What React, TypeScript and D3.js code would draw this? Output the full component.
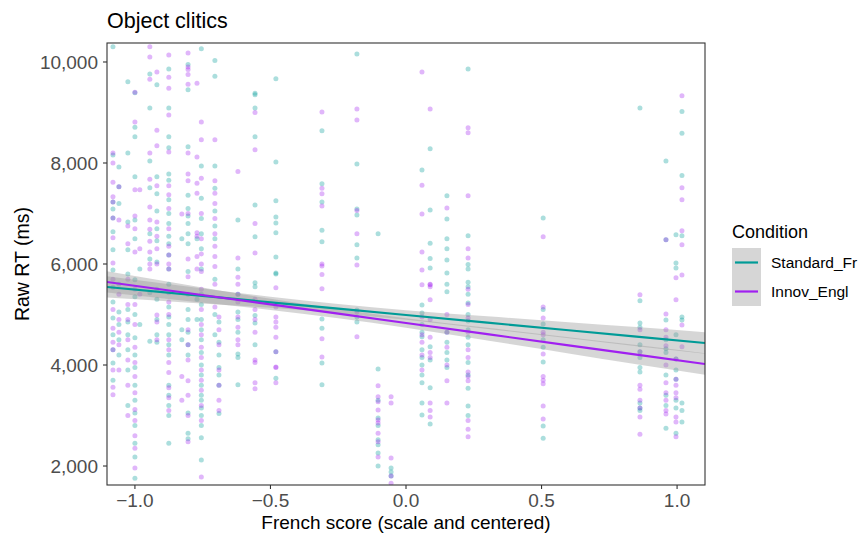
import React from "react";
import * as d3 from "d3";

// French score of each participant (x positions of the point columns)
const scoreColumns = [
  -1.081, -1.059, -1.026, -1.0, -0.982, -0.945, -0.919, -0.875, -0.827, -0.804,
  -0.771, -0.755, -0.705, -0.69, -0.62, -0.557, -0.48, -0.31, -0.181, -0.103,
  -0.055, 0.059, 0.089, 0.151, 0.229, 0.506, 0.863, 0.959, 0.996, 1.018,
];

// Raw RTs (ms), Standard_Fr condition, one list per column
const standardRT = [
  [10300, 8160, 7230, 7090, 6910, 6640, 6280, 5880, 5540, 5250, 4930, 4600, 4300, 4040, 3700],
  [7920, 7530, 7200, 5600, 5050, 4800, 4500, 4200],
  [9610, 8200, 6830, 6280, 5800, 5100, 4850, 4600, 4300, 3900, 3200],
  [9390, 8710, 8520, 7730, 6870, 6500, 5690, 5350, 5000, 4540, 4200, 3950, 3600, 3300, 3050, 2800, 2450, 2180, 1760],
  [5900, 4800],
  [9760, 9090, 8040, 7510, 6600, 6100, 5430, 4470],
  [9550, 7730, 7390, 7050, 6700, 6460, 6040, 5500, 5300, 4900, 4600, 4450],
  [9860, 9090, 8520, 8300, 7780, 7660, 7270, 7000, 6800, 6550, 6400, 6180, 5900, 5600, 5150, 4950, 4800, 4600, 4400, 4200, 3600, 3400, 3200, 3000, 2450],
  [6500, 4700, 4500],
  [9950, 9450, 8320, 7360, 7100, 6950, 6800, 6600, 6400, 5850, 5400, 5100, 4900, 4650, 4400, 4200, 3050, 2650, 2540],
  [6500, 5300, 4900],
  [10260, 7940, 7300, 6900, 6600, 6300, 5900, 5400, 5200, 4900, 4700, 4500, 4250, 4000, 3800, 3600, 3400, 3300, 3150, 3000, 2800, 2560, 2120],
  [10030, 9720, 7940, 7500, 7050, 6750, 6500, 5700, 5000, 4600],
  [4850, 4450, 4200, 3950, 3800, 3600, 3040],
  [6870, 5900, 5400, 5050, 4900, 4650, 4220, 4150, 3610],
  [9380, 9350, 9090, 8520, 7170, 6540, 5630, 5550, 4980, 4830, 4400],
  [9670, 8020, 7250, 6930, 6810, 6620, 6140, 5820, 5800, 4260, 3740],
  [8640, 7590, 7230, 6670, 6440, 4910, 4730, 4040, 3610],
  [10160, 7980, 7090, 6970, 6380, 6120, 5090, 4950, 4850],
  [6600, 3920, 3300, 2950, 2800, 2520, 2420, 2260, 2000],
  [1960, 1880, 1800],
  [7860, 5190, 5030, 4800, 4650, 4560, 4300, 4150, 4000, 3800, 3650, 3250, 3010],
  [8280, 7070, 6410, 6110, 5920, 4360, 4100, 3550, 2830],
  [7350, 6890, 6500, 6300, 6080, 5820, 5600, 5450, 4650, 4450, 4250, 4100, 3950],
  [9860, 6560, 5990, 5900, 5640, 5550, 5400, 5230, 5000, 4870, 4700, 4550, 4400, 4050, 3800, 3540, 3190, 3000],
  [6910, 5100, 4810, 4500, 4350, 4060, 2790, 2550],
  [9090, 5270, 4830, 4750, 4400, 4260, 4150, 3950, 3860, 3250, 3150, 3100],
  [8040, 6480, 4890, 4500, 4320, 4250, 3800, 3400, 3200, 2750],
  [6580, 6020, 5920, 4600, 4120, 3900, 3720, 3300, 3150, 2650],
  [9020, 8590, 7750, 6560, 4950, 4890, 3250, 3100, 2870],
];

// Raw RTs (ms), Innov_Engl condition, one list per column
const innovRT = [
  [8200, 8000, 7620, 7330, 7230, 6910, 6520, 6020, 5700, 5100, 4730, 4450, 4300, 3900, 3560, 3410],
  [7530, 6870, 5400, 4900, 4650, 4400, 3900],
  [6750, 6400, 5700, 5200, 4900, 4500, 4100, 3600, 3000],
  [9400, 8810, 7470, 6950, 6700, 6240, 5500, 5200, 4800, 4350, 4050, 3770, 3450, 3120, 2900, 2600, 2350, 1960],
  [7470, 6300, 5400],
  [10300, 10100, 9660, 8200, 7680, 7130, 6870, 6690, 6450, 6240, 6000, 5900],
  [9800, 8650, 8340, 7550, 6830, 6550, 6300, 6000, 4990, 4850, 4500],
  [10140, 9700, 9480, 8950, 8220, 7550, 7370, 7100, 6700, 6350, 6180, 6000, 5900, 5430, 5250, 5000, 4500, 4300, 4050, 3850, 3550, 3350, 3100],
  [6990, 3770, 3300],
  [10180, 9900, 9850, 9750, 9560, 8200, 7780, 7650, 7000, 6100, 5750, 4700, 4400, 4100, 3690, 3400, 3000, 2480],
  [9580, 8120, 7600, 7400, 6620, 6550, 6150, 5900],
  [8810, 8460, 7700, 7000, 6500, 6200, 6000, 5850, 5500, 5100, 4800, 4600, 4350, 4150, 3900, 3700, 3500, 3200, 2900, 1780],
  [8460, 7650, 7400, 7200, 6900, 6600, 6350, 6150, 5950, 5600, 5150],
  [4950, 4700, 4400, 3900, 3600, 3300, 3100],
  [7830, 6120, 5740, 5600, 5400, 5250, 4950, 4750, 4500, 4400],
  [9000, 8260, 6800, 6220, 5300, 5100, 4900, 4650, 4100, 4050, 3650, 3530],
  [5530, 5150, 4950, 4850, 4750, 4550, 4260, 3960, 3950, 3650],
  [9010, 7500, 7390, 7150, 6000, 5960, 5790, 5510, 4520, 4160],
  [9070, 8850, 7060, 6600, 5980, 5050, 4560],
  [3590, 3370, 3270, 3110, 2910, 2850, 2650, 2480, 2180],
  [3370, 3250, 2160, 1800, 1660],
  [9800, 7560, 6990, 6240, 5880, 5590, 4950, 4600, 4450, 4200, 3900],
  [9070, 5600, 5550, 5590, 5290, 4900, 4550, 4250, 4150, 3250, 3100, 2970],
  [7110, 5000, 4650, 4350, 4000, 3690, 3250],
  [8700, 8600, 7350, 6300, 6120, 5500, 5200, 4930, 4650, 4300, 4150, 3860, 3770, 3690, 2900, 2730, 2580],
  [6540, 5150, 4930, 4650, 4600, 4220, 3770, 3700, 3630, 3190, 2930],
  [5390, 4700, 4260, 3600, 3520, 3300, 3150, 2970, 2630],
  [6480, 5010, 4700, 4550, 4380, 4000, 3650, 3450, 3300, 3100, 3030],
  [5730, 5290, 4120, 3720, 3600, 3450, 3350, 2970, 2870, 2580],
  [9330, 7510, 7270, 6660, 6380, 5780, 4790, 4360],
];

// Fitted regression lines and their confidence half-widths (ms)
const fitX = [-1.103, -0.8, -0.5, -0.25, 0, 0.3, 0.6, 0.85, 1.103];
const fitStandard = [5545, 5392, 5242, 5116, 4990, 4839, 4688, 4562, 4436];
const fitInnov = [5644, 5421, 5200, 5016, 4832, 4611, 4390, 4206, 4020];
const seStandard = [210, 160, 110, 92, 95, 125, 160, 190, 215];
const seInnov = [210, 160, 110, 92, 95, 125, 160, 190, 215];

const xTicks = [-1, -0.5, 0, 0.5, 1];
const xTickLabels = ["\u22121.0", "\u22120.5", "0.0", "0.5", "1.0"];
const yTicks = [2000, 4000, 6000, 8000, 10000];
const yTickLabels = ["2,000", "4,000", "6,000", "8,000", "10,000"];

const conditions = ["Standard_Fr", "Innov_Engl"];
const colors = ["#009B97", "#A020F0"];

const W = 864;
const H = 534;
const P = { left: 107, right: 705, top: 43, bottom: 485 };
const FONT = "'Liberation Sans', Arial, Helvetica, sans-serif";

export default function App() {
  const x = d3.scaleLinear().domain([-1.103, 1.103]).range([P.left, P.right]);
  const y = d3.scaleLinear().domain([1624, 10376]).range([P.bottom, P.top]);

  const fits = [fitStandard, fitInnov];
  const ses = [seStandard, seInnov];
  const area = (fit: number[], se: number[]) =>
    d3
      .area<number>()
      .x((_, i) => x(fitX[i]))
      .y0((_, i) => y(fit[i] - se[i]))
      .y1((_, i) => y(fit[i] + se[i]))
      .curve(d3.curveMonotoneX)(fitX.map((_, i) => i)) || "";
  const line = (fit: number[]) =>
    d3
      .line<number>()
      .x((_, i) => x(fitX[i]))
      .y((_, i) => y(fit[i]))(fitX.map((_, i) => i)) || "";

  const points: { cx: number; cy: number; c: string; k: string }[] = [];
  scoreColumns.forEach((s, i) => {
    standardRT[i].forEach((v, j) =>
      points.push({ cx: x(s), cy: y(v), c: colors[0], k: `s${i}-${j}` })
    );
    innovRT[i].forEach((v, j) =>
      points.push({ cx: x(s), cy: y(v), c: colors[1], k: `i${i}-${j}` })
    );
  });

  return (
    <svg
      width={W}
      height={H}
      style={{ position: "absolute", left: 0, top: 0, background: "#fff" }}
      fontFamily={FONT}
    >
      <rect x={0} y={0} width={W} height={H} fill="#fff" />
      <defs>
        <clipPath id="panel">
          <rect x={P.left} y={P.top} width={P.right - P.left} height={P.bottom - P.top} />
        </clipPath>
      </defs>
      <text x={P.left} y={28} fontSize={21.5} fill="#000">
        Object clitics
      </text>
      <g clipPath="url(#panel)">
        {points.map((p) => (
          <circle key={p.k} cx={p.cx} cy={p.cy} r={2.5} fill={p.c} fillOpacity={0.33} />
        ))}
        {fits.map((f, k) => (
          <path key={`a${k}`} d={area(f, ses[k])} fill="#999999" fillOpacity={0.4} />
        ))}
        {fits.map((f, k) => (
          <path key={`l${k}`} d={line(f)} fill="none" stroke={colors[k]} strokeWidth={2.2} />
        ))}
      </g>
      <rect
        x={P.left}
        y={P.top}
        width={P.right - P.left}
        height={P.bottom - P.top}
        fill="none"
        stroke="#333"
        strokeWidth={1.1}
      />
      {xTicks.map((t, i) => (
        <g key={`xt${i}`}>
          <line x1={x(t)} x2={x(t)} y1={P.bottom} y2={P.bottom + 4} stroke="#333" strokeWidth={1.1} />
          <text x={x(t)} y={507} fontSize={19} fill="#4d4d4d" textAnchor="middle">
            {xTickLabels[i]}
          </text>
        </g>
      ))}
      {yTicks.map((t, i) => (
        <g key={`yt${i}`}>
          <line x1={P.left - 4} x2={P.left} y1={y(t)} y2={y(t)} stroke="#333" strokeWidth={1.1} />
          <text x={98} y={y(t) + 6.8} fontSize={19} fill="#4d4d4d" textAnchor="end">
            {yTickLabels[i]}
          </text>
        </g>
      ))}
      <text x={(P.left + P.right) / 2} y={529} fontSize={19} fill="#000" textAnchor="middle">
        French score (scale and centered)
      </text>
      <text
        transform={`translate(29, ${(P.top + P.bottom) / 2}) rotate(-90)`}
        fontSize={19.5}
        fill="#000"
        textAnchor="middle"
      >
        Raw RT (ms)
      </text>
      <text x={732} y={238} fontSize={18} fill="#000">
        Condition
      </text>
      {conditions.map((c, k) => (
        <g key={c}>
          <rect x={732} y={248 + k * 29} width={29} height={29} fill="#999999" fillOpacity={0.4} />
          <line x1={735} x2={758} y1={262.5 + k * 29} y2={262.5 + k * 29} stroke={colors[k]} strokeWidth={2.2} />
          <text x={771} y={268 + k * 29} fontSize={15.5} fill="#000">
            {c}
          </text>
        </g>
      ))}
    </svg>
  );
}
